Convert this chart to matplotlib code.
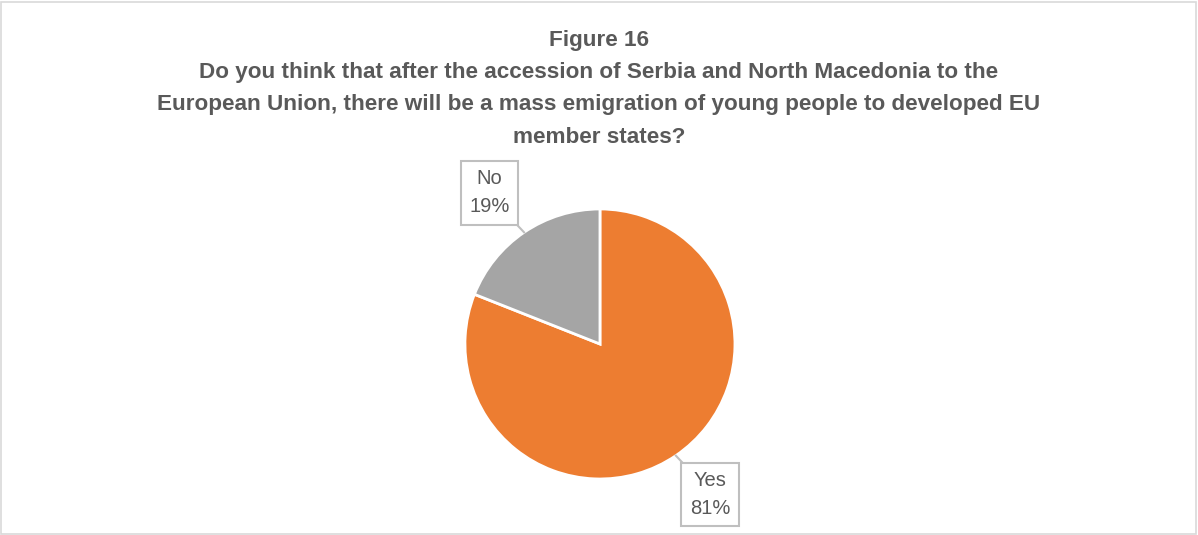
import matplotlib
matplotlib.use("Agg")
import matplotlib.pyplot as plt
import numpy as np

# data
labels = ["Yes", "No"]
shares = [81, 19]
colors = ["#ED7D31", "#A5A5A5"]

title = ("Figure 16\n"
         "Do you think that after the accession of Serbia and North Macedonia to the\n"
         "European Union, there will be a mass emigration of young people to developed EU\n"
         "member states?")

plt.rcParams['font.family'] = ['Liberation Sans', 'DejaVu Sans']
txt_col = "#595959"

fig = plt.figure(figsize=(11.98, 5.35), dpi=100)
fig.patches.append(plt.Rectangle((0.001, 0.002), 0.997, 0.995, transform=fig.transFigure,
                                 fill=False, edgecolor="#D9D9D9", linewidth=1.2))

fig.text(0.5, 0.944, title, ha="center", va="top", fontsize=16.2, fontweight="bold",
         color=txt_col, linespacing=1.7)

ax = fig.add_axes([0.3881, 0.1047, 0.2254, 0.5047])
wedges, _ = ax.pie(shares, colors=colors, startangle=90, counterclock=False,
                   wedgeprops=dict(edgecolor="white", linewidth=2))
ax.set_xlim(-1, 1)
ax.set_ylim(-1, 1)
ax.set_aspect("equal")

# callout labels
label_pos = {"No": (-0.82, 1.12), "Yes": (0.815, -1.115)}
for w, lab, s in zip(wedges, labels, shares):
    mid = np.deg2rad((w.theta1 + w.theta2) / 2)
    ex, ey = np.cos(mid), np.sin(mid)
    tx, ty = label_pos[lab]
    ax.text(tx, ty, f"{lab}\n{s}%", ha="center", va="center", fontsize=14.5,
            color=txt_col, linespacing=1.6, clip_on=False, zorder=4,
            bbox=dict(boxstyle="square,pad=0.42", facecolor="white",
                      edgecolor="#BFBFBF", linewidth=1.5))
    # pointer from box toward slice edge
    sx = tx + 0.17 * np.sign(ex - tx)
    sy = ty + 0.2 * np.sign(ey - ty)
    ax.plot([sx, ex], [sy, ey], color="#BFBFBF", linewidth=1.5, clip_on=False, zorder=3)

fig.savefig("out.png", dpi=100)
